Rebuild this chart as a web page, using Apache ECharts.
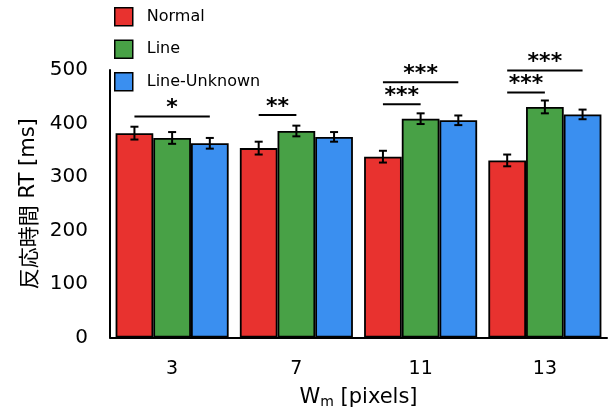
<!DOCTYPE html>
<html><head><meta charset="utf-8">
<script src="https://cdn.jsdelivr.net/npm/echarts@6/dist/echarts.min.js"></script>
<style>html,body{margin:0;padding:0;background:#fff}#c{width:609px;height:414px}</style>
</head><body><div id="c"></div>
<script>
const categories = ['3', '7', '11', '13'];
const seriesNames = ['Normal', 'Line', 'Line-Unknown'];
const normal = [382, 354, 338, 331];
const line = [373, 386, 409, 431];
const lineUnknown = [363, 375, 406, 417];
const normalErr = [12, 12, 11, 11];
const lineErr = [11, 10, 10, 12];
const lineUnknownErr = [10, 9, 9, 9];
const yTicks = [0, 100, 200, 300, 400, 500];
// significance brackets: category, from bar, to bar, height (ms), label
const sigCategory = [0, 1, 2, 2, 3, 3];
const sigFrom = [0, 0, 0, 0, 0, 0];
const sigTo = [2, 1, 1, 2, 1, 2];
const sigHeight = [413, 416, 436, 477, 458, 499];
const sigLabel = ['*', '**', '***', '***', '***', '***'];

const colors = ['#e8322f', '#48a146', '#3a8ff0'];
const CAT_GAP = 0.09;
const values = [normal, line, lineUnknown];
const errs = [normalErr, lineErr, lineUnknownErr];

function barX(api, cat, idx, val) {
  const c = api.coord([cat, val]);
  const band = api.size([1, 0])[0];
  const bw = band * (1 - CAT_GAP) / 3;
  return [c[0] + (idx - 1) * bw, c[1]];
}

const errData = [];
values.forEach((arr, s) => arr.forEach((v, i) => errData.push([i, s, v, errs[s][i]])));
const sigData = sigCategory.map((c, k) => [c, sigFrom[k], sigTo[k], sigHeight[k], sigLabel[k]]);

const chart = echarts.init(document.getElementById('c'));
const FONT = 'DejaVu Sans, Noto Sans CJK JP, sans-serif';
chart.setOption({
  animation: false,
  textStyle: { fontFamily: FONT },
  legend: {
    orient: 'vertical', left: 109, top: 2,
    itemWidth: 18, itemHeight: 18, itemGap: 13,
    textStyle: { fontSize: 16, color: '#000', padding: [0, 0, 0, 9], fontFamily: FONT },
    data: seriesNames.map(n => ({ name: n, icon: 'rect', itemStyle: { borderColor: '#000', borderWidth: 1.5 } }))
  },
  grid: { left: 110, right: 2, top: 70, bottom: 76 },
  xAxis: {
    type: 'category', data: categories,
    axisLine: { lineStyle: { color: '#000', width: 2 } },
    axisTick: { show: false },
    axisLabel: { color: '#000', fontSize: 19, margin: 22, fontFamily: FONT },
    name: '{a|W}{b|m}{a| [pixels]}',
    nameLocation: 'middle', nameGap: 48,
    nameTextStyle: {
      rich: {
        a: { fontSize: 21, color: '#000', fontFamily: FONT, lineHeight: 24 },
        b: { fontSize: 14, color: '#000', fontFamily: FONT, lineHeight: 24, padding: [9, 0, 0, 0] }
      }
    }
  },
  yAxis: {
    type: 'value', min: 0, max: 500, interval: 100,
    axisLine: { show: true, lineStyle: { color: '#000', width: 2 } },
    axisTick: { show: false },
    splitLine: { show: false },
    axisLabel: { color: '#000', fontSize: 20, margin: 22, fontFamily: FONT,
      formatter: v => yTicks.includes(v) ? String(v) : '' },
    name: '{c|反応時間}{l| RT [ms]}',
    nameLocation: 'middle', nameGap: 71, nameRotate: 90,
    nameTextStyle: {
      rich: {
        c: { fontSize: 21, color: '#000', fontFamily: 'Noto Sans CJK JP' },
        l: { fontSize: 21, color: '#000', fontFamily: FONT }
      }
    }
  },
  series: [
    ...seriesNames.map((n, s) => ({
      name: n, type: 'bar', data: values[s],
      barGap: '0%', barCategoryGap: (CAT_GAP * 100) + '%',
      itemStyle: { color: colors[s], borderColor: '#000', borderWidth: 1.8 }
    })),
    {
      type: 'custom', name: 'err', data: errData, z: 10, silent: true,
      renderItem: (params, api) => {
        const cat = api.value(0), s = api.value(1), v = api.value(2), e = api.value(3);
        const top = barX(api, cat, s, v + e), bot = barX(api, cat, s, v - e);
        const x = top[0], cap = 4;
        const st = { stroke: '#000', lineWidth: 2 };
        return { type: 'group', children: [
          { type: 'line', shape: { x1: x, y1: top[1], x2: x, y2: bot[1] }, style: st },
          { type: 'line', shape: { x1: x - cap, y1: top[1], x2: x + cap, y2: top[1] }, style: st },
          { type: 'line', shape: { x1: x - cap, y1: bot[1], x2: x + cap, y2: bot[1] }, style: st }
        ] };
      }
    },
    {
      type: 'custom', name: 'sig', data: sigData, z: 10, silent: true,
      encode: { x: 0, y: 3 },
      renderItem: (params, api) => {
        const cat = api.value(0), f = api.value(1), t = api.value(2), h = api.value(3);
        const label = sigData[params.dataIndex][4];
        const p1 = barX(api, cat, f, h), p2 = barX(api, cat, t, h);
        return { type: 'group', children: [
          { type: 'line', shape: { x1: p1[0], y1: p1[1], x2: p2[0], y2: p2[1] }, style: { stroke: '#000', lineWidth: 2 } },
          { type: 'text', x: (p1[0] + p2[0]) / 2, y: p1[1] - 8,
            style: { text: label, fill: '#000', font: 'bold 22px DejaVu Sans', align: 'center', verticalAlign: 'middle' } }
        ] };
      }
    }
  ]
});
</script></body></html>
